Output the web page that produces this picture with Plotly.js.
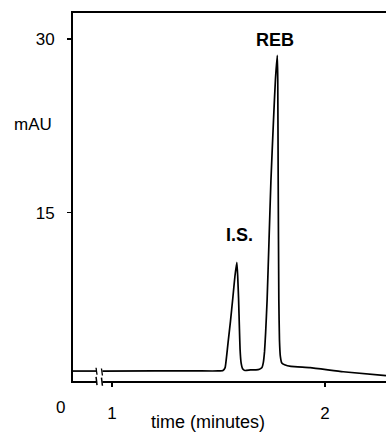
<!DOCTYPE html>
<html>
<head>
<meta charset="utf-8">
<script src="https://cdn.plot.ly/plotly-3.0.1.min.js"></script>
<style>html,body{margin:0;padding:0;background:#fff;}#chart{width:386px;height:432px;}</style>
</head>
<body>
<div id="chart"></div>
<script>
// Chromatogram signal (time in minutes, absorbance in mAU)
const timeMin = [0.817, 0.930, null, 0.953, 1.20, 1.40, 1.498, 1.521, 1.531, 1.538, 1.545, 1.556, 1.567, 1.577, 1.586, 1.590, 1.594, 1.598, 1.601, 1.606, 1.613, 1.624, 1.650, 1.676, 1.692, 1.704, 1.710, 1.716, 1.721, 1.728, 1.737, 1.746, 1.758, 1.767, 1.776, 1.778, 1.780, 1.783, 1.786, 1.790, 1.797, 1.810, 1.840, 1.930, 2.085, 2.286];
const signalMAU = [1.30, 1.30, null, 1.30, 1.31, 1.31, 1.31, 1.35, 1.6, 2.6, 3.8, 5.6, 7.6, 9.5, 10.7, 9.5, 7.6, 5.0, 3.2, 2.0, 1.5, 1.35, 1.4, 1.4, 1.45, 1.6, 2.0, 3.0, 4.6, 7.45, 12.6, 17.8, 23.0, 26.5, 28.6, 26.5, 17.8, 7.45, 4.0, 2.6, 2.0, 1.85, 1.7, 1.59, 1.24, 0.9];

const xTickVals = [1, 2];
const xTickText = ['1', '2'];
const yTickVals = [15, 30];
const yTickText = ['15', '30'];

const peakNames = ['I.S.', 'REB'];
const peakTimes = [1.599, 1.765];
const peakLabelY = [13.1, 29.9];

const FONT = 'Liberation Sans, Arial, Helvetica, sans-serif';

const trace = {
  x: timeMin, y: signalMAU, type: 'scatter', mode: 'lines',
  line: {color: '#000', width: 1.7, shape: 'spline', smoothing: 0.4},
  connectgaps: false, hoverinfo: 'skip', showlegend: false
};

const annotations = peakNames.map((n, i) => ({
  x: peakTimes[i], y: peakLabelY[i], xref: 'x', yref: 'y', text: '<b>' + n + '</b>',
  showarrow: false, xanchor: 'center', yanchor: 'middle',
  font: {family: FONT, size: 18, color: '#000'}
}));
annotations.push(
  {x: -0.128, y: 0.698, xref: 'paper', yref: 'paper', text: 'mAU', showarrow: false,
   xanchor: 'center', yanchor: 'middle', font: {family: FONT, size: 17, color: '#000'}},
  {x: -0.0415, y: -0.073, xref: 'paper', yref: 'paper', text: '0', showarrow: false,
   xanchor: 'center', yanchor: 'middle', font: {family: FONT, size: 17, color: '#000'}},
  {x: 0.43, y: -0.111, xref: 'paper', yref: 'paper', text: 'time (minutes)', showarrow: false,
   xanchor: 'center', yanchor: 'middle', font: {family: FONT, size: 18, color: '#000'}}
);

// axis-break decoration
const bx0 = 0.0767, bx1 = 0.094;
const shapes = [
  {type: 'rect', xref: 'paper', yref: 'paper', x0: bx0, x1: bx1, y0: -0.02, y1: 0.04,
   fillcolor: '#fff', line: {width: 0}, layer: 'above'},
  {type: 'line', xref: 'paper', yref: 'paper', x0: bx0, x1: bx0 - 0.003, y0: -0.011, y1: 0.011, line: {color: '#000', width: 1.5}, layer: 'above'},
  {type: 'line', xref: 'paper', yref: 'paper', x0: bx1, x1: bx1 - 0.003, y0: -0.013, y1: 0.009, line: {color: '#000', width: 1.5}, layer: 'above'},
  {type: 'line', xref: 'paper', yref: 'paper', x0: bx0, x1: bx0 - 0.003, y0: 0.017, y1: 0.036, line: {color: '#000', width: 1.3}, layer: 'above'},
  {type: 'line', xref: 'paper', yref: 'paper', x0: bx1, x1: bx1 - 0.003, y0: 0.015, y1: 0.034, line: {color: '#000', width: 1.3}, layer: 'above'}
];

const layout = {
  width: 386, height: 432,
  margin: {l: 73, r: 0, t: 13, b: 51, pad: 0},
  paper_bgcolor: '#fff', plot_bgcolor: '#fff',
  font: {family: FONT, size: 17, color: '#000'},
  xaxis: {
    range: [0.817, 2.286], showgrid: false, zeroline: false,
    showline: true, mirror: true, linecolor: '#000', linewidth: 2,
    ticks: 'outside', ticklen: 4, tickwidth: 1.5, tickcolor: '#000',
    tickvals: xTickVals, ticktext: xTickText, ticklabelstandoff: 12,
    tickfont: {family: FONT, size: 17, color: '#000'}
  },
  yaxis: {
    range: [0.44, 32.27], showgrid: false, zeroline: false,
    showline: true, linecolor: '#000', linewidth: 2,
    ticks: 'outside', ticklen: 4, tickwidth: 1.5, tickcolor: '#000',
    tickvals: yTickVals, ticktext: yTickText, ticklabelstandoff: 9,
    tickfont: {family: FONT, size: 17, color: '#000'}
  },
  annotations: annotations,
  shapes: shapes,
  showlegend: false
};

Plotly.newPlot('chart', [trace], layout, {displayModeBar: false, staticPlot: true});
</script>
</body>
</html>
